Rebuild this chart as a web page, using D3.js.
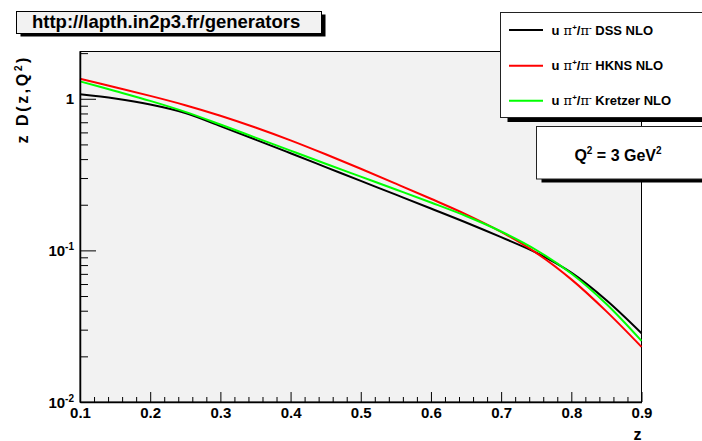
<!DOCTYPE html>
<html><head><meta charset="utf-8">
<script src="https://cdn.jsdelivr.net/npm/d3@7"></script>
<style>
body{margin:0;background:#fff;}
svg{display:block;font-family:"Liberation Sans",Arial,sans-serif;}
</style></head>
<body>
<svg id="c" width="702" height="441"></svg>
<script>
// ---- data ----
const zValues = [0.10,0.15,0.20,0.25,0.30,0.35,0.40,0.45,0.50,0.55,0.60,0.65,0.70,0.75,0.80,0.85,0.90];
const dssNLO     = [1.0691,1.0030,0.9158,0.8049,0.6605,0.5381,0.4369,0.3543,0.2873,0.2330,0.1889,0.1528,0.1222,0.0966,0.0713,0.0469,0.02843];
const hknsNLO    = [1.3547,1.1910,1.0450,0.9074,0.7734,0.6466,0.5316,0.4303,0.3453,0.2754,0.2190,0.1728,0.1324,0.0963,0.0644,0.0396,0.0231];
const kretzerNLO = [1.3022,1.1257,0.9686,0.8196,0.6767,0.5547,0.4546,0.3730,0.3067,0.2522,0.2070,0.1686,0.1332,0.1006,0.0704,0.0443,0.0253];
const seriesNames = ["DSS NLO","HKNS NLO","Kretzer NLO"];
const seriesColors = ["#000000","#ff0000","#00ff00"];
const xTicks = [0.1,0.2,0.3,0.4,0.5,0.6,0.7,0.8,0.9];
const yMajor = [0.01,0.1,1];
const yMajorExp = ["-2","-1",null];
const yMinor = [0.02,0.03,0.04,0.05,0.06,0.07,0.08,0.09,0.2,0.3,0.4,0.5,0.6,0.7,0.8,0.9,2];

const svg = d3.select("#c");
const L=80, R=641.5, T=51.5, B=402;
const x = d3.scaleLinear().domain([0.1,0.9]).range([L,R]);
const y = d3.scaleLog().domain([0.01,2.05]).range([B,T]);

// big clipped title glyph at top (only its tail is inside the picture)
svg.append("text").attr("x",453).attr("y",-14).attr("font-size",52).text("g");

// frame
svg.append("rect").attr("x",L).attr("y",T).attr("width",R-L).attr("height",B-T)
  .attr("fill","#f2f2f2").attr("stroke","#000").attr("stroke-width",1);

// curves
const all=[dssNLO,hknsNLO,kretzerNLO];
const line = d3.line().x((d,i)=>x(zValues[i])).y(d=>y(d)).curve(d3.curveCatmullRom.alpha(0.5));
all.forEach((s,k)=>{
  svg.append("path").attr("d",line(s)).attr("fill","none")
    .attr("stroke",seriesColors[k]).attr("stroke-width",2);
});

// x axis
const xMinorVals = d3.range(0.1,0.9001,0.02).filter(v=>Math.abs(v*10-Math.round(v*10))>1e-6);
svg.append("g").attr("transform",`translate(0,${B})`)
  .call(d3.axisBottom(x).tickValues(xMinorVals).tickSize(-5).tickFormat(""))
  .call(g=>{g.select(".domain").remove();g.selectAll("line").attr("stroke","#000");});
const xa = svg.append("g").attr("transform",`translate(0,${B})`)
  .call(d3.axisBottom(x).tickValues(xTicks).tickSizeInner(-10).tickSizeOuter(0).tickPadding(5).tickFormat(d3.format(".1f")));
xa.select(".domain").attr("stroke","#000").attr("stroke-width",1.5);
xa.selectAll("line").attr("stroke","#000");
xa.selectAll("text").attr("font-size",15).attr("font-weight","bold").attr("fill","#000")
  .attr("font-family","Liberation Sans, Arial, sans-serif");

// y axis
svg.append("g").attr("transform",`translate(${L},0)`)
  .call(d3.axisLeft(y).tickValues(yMinor.filter(v=>v<=2.05)).tickSize(-8).tickFormat(""))
  .call(g=>{g.select(".domain").remove();g.selectAll("line").attr("stroke","#000");});
const ya = svg.append("g").attr("transform",`translate(${L},0)`)
  .call(d3.axisLeft(y).tickValues(yMajor).tickSizeInner(-16).tickSizeOuter(0).tickFormat(""));
ya.select(".domain").attr("stroke","#000").attr("stroke-width",1.5);
ya.selectAll("line").attr("stroke","#000");
yMajor.forEach((v,i)=>{
  const t = svg.append("text").attr("x",L-6).attr("y",y(v)+5.5).attr("text-anchor","end")
    .attr("font-size",15).attr("font-weight","bold");
  if(yMajorExp[i]){
    t.append("tspan").text("10");
    t.append("tspan").attr("dy",-6).attr("font-size",10).text(yMajorExp[i]);
  } else t.text(String(v));
});

// axis titles
svg.append("text").attr("x",R).attr("y",439.5).attr("text-anchor","end")
  .attr("font-size",16).attr("font-weight","bold").text("z");
const yt = svg.append("text").attr("transform","translate(27.5,55) rotate(-90)")
  .attr("text-anchor","end").attr("font-size",16).attr("font-weight","bold")
  .attr("letter-spacing",2.6);
yt.append("tspan").text("z D(z,Q");
yt.append("tspan").attr("dy",-6).attr("font-size",10).text("2");
yt.append("tspan").attr("dy",6).text(")");

// url box
svg.append("rect").attr("x",20.5).attr("y",14.5).attr("width",305).attr("height",22).attr("fill","#000");
svg.append("rect").attr("x",16.5).attr("y",11.5).attr("width",305).attr("height",22)
  .attr("fill","#f2f2f2").attr("stroke","#000");
svg.append("text").attr("x",32).attr("y",28).attr("font-size",18.5).attr("font-weight","bold")
  .text("http://lapth.in2p3.fr/generators");

// legend box
svg.append("rect").attr("x",507.5).attr("y",17).attr("width",220).attr("height",105).attr("fill","#000");
svg.append("rect").attr("x",500.5).attr("y",12.5).attr("width",220).attr("height",105)
  .attr("fill","#fff").attr("stroke","#222");
const legY=[30,65.7,100.7];
seriesNames.forEach((n,k)=>{
  svg.append("line").attr("x1",509).attr("x2",543).attr("y1",legY[k]).attr("y2",legY[k])
    .attr("stroke",seriesColors[k]).attr("stroke-width",2);
  const t=svg.append("text").attr("x",551.5).attr("y",legY[k]+4.5).attr("font-size",13).attr("font-weight","bold");
  t.append("tspan").text("u");
  t.append("tspan").attr("font-weight","normal").attr("font-family","DejaVu Serif, serif").attr("font-size",13).text(" \u03c0");
  t.append("tspan").attr("dy",-5).attr("font-size",8).text("+");
  t.append("tspan").attr("dy",5).text("/");
  t.append("tspan").attr("font-weight","normal").attr("font-family","DejaVu Serif, serif").attr("font-size",13).text("\u03c0");
  t.append("tspan").attr("dy",-5).attr("font-size",8).text("-");
  t.append("tspan").attr("dy",5).text(" "+n);
});

// Q2 box
svg.append("rect").attr("x",541.5).attr("y",130).attr("width",200).attr("height",52.5).attr("fill","#000");
svg.append("rect").attr("x",536.5).attr("y",126.5).attr("width",200).attr("height",52.5)
  .attr("fill","#fff").attr("stroke","#222");
const q=svg.append("text").attr("x",618).attr("y",161).attr("text-anchor","middle")
  .attr("font-size",16).attr("font-weight","bold");
q.append("tspan").text("Q");
q.append("tspan").attr("dy",-7).attr("font-size",10).text("2");
q.append("tspan").attr("dy",7).text(" = 3 GeV");
q.append("tspan").attr("dy",-7).attr("font-size",10).text("2");
</script>
</body></html>
